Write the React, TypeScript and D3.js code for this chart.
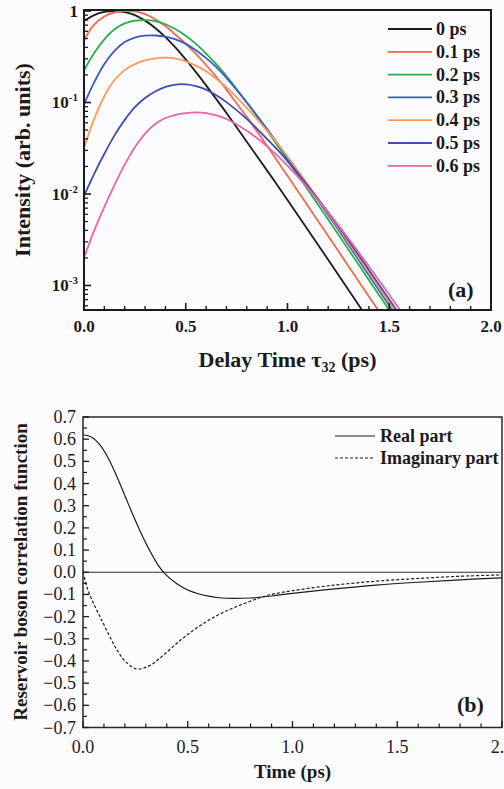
import React from "react";
import * as d3 from "d3";

// ---------- Panel (a) data ----------
const delayLabels = ["0 ps", "0.1 ps", "0.2 ps", "0.3 ps", "0.4 ps", "0.5 ps", "0.6 ps"];
const delayColors = ["#1c1c1c", "#f2694f", "#2aae4c", "#3b5bc2", "#f89b58", "#3d4db5", "#ee62a9"];

// delay time tau_32 (ps) at which the curves were read
const delayTimeGrid = [0, 0.05, 0.1, 0.15, 0.2, 0.25, 0.3, 0.35, 0.4, 0.45, 0.5, 0.55, 0.6, 0.65, 0.7, 0.8, 0.9, 1.0, 1.2, 1.4, 1.6];

const intensity0ps = [0.776, 0.902, 0.977, 1.0, 0.973, 0.902, 0.785, 0.653, 0.519, 0.398, 0.295, 0.215, 0.154, 0.109, 0.0767, 0.0372, 0.018, 0.00861, 0.00191, 0.000417, 0.0000912];
const intensity01ps = [0.479, 0.708, 0.871, 0.966, 1.0, 0.989, 0.923, 0.813, 0.684, 0.55, 0.437, 0.339, 0.257, 0.191, 0.138, 0.0692, 0.0335, 0.0158, 0.00347, 0.000759, 0.000166];
const intensity02ps = [0.224, 0.347, 0.49, 0.631, 0.733, 0.785, 0.796, 0.776, 0.716, 0.631, 0.537, 0.437, 0.343, 0.263, 0.195, 0.1, 0.049, 0.0234, 0.00525, 0.00115, 0.000251];
const intensity03ps = [0.0955, 0.166, 0.263, 0.367, 0.457, 0.513, 0.537, 0.54, 0.525, 0.49, 0.437, 0.372, 0.305, 0.243, 0.186, 0.1, 0.0513, 0.0248, 0.00589, 0.00129, 0.000282];
const intensity04ps = [0.0316, 0.0661, 0.117, 0.176, 0.226, 0.263, 0.288, 0.304, 0.309, 0.302, 0.282, 0.253, 0.219, 0.182, 0.146, 0.0871, 0.049, 0.0257, 0.00617, 0.00138, 0.000302];
const intensity05ps = [0.00955, 0.0166, 0.0275, 0.0437, 0.0646, 0.0891, 0.112, 0.132, 0.148, 0.157, 0.158, 0.151, 0.138, 0.12, 0.101, 0.0661, 0.0398, 0.0229, 0.00631, 0.00148, 0.000331];
const intensity06ps = [0.002, 0.00398, 0.00724, 0.0126, 0.0209, 0.0324, 0.0457, 0.0582, 0.0676, 0.0733, 0.0767, 0.078, 0.0767, 0.0724, 0.0661, 0.049, 0.0331, 0.0204, 0.00631, 0.00162, 0.00038];

const delayIntensities = [intensity0ps, intensity01ps, intensity02ps, intensity03ps, intensity04ps, intensity05ps, intensity06ps];

const xTicksA = [0, 0.5, 1.0, 1.5, 2.0];
const xTickLabelsA = ["0.0", "0.5", "1.0", "1.5", "2.0"];
const yTicksA = [1, 0.1, 0.01, 0.001];
const yTickExpA = ["", "-1", "-2", "-3"];

// ---------- Panel (b) data ----------
const realTime = [0, 0.04, 0.08, 0.12, 0.16, 0.2, 0.24, 0.28, 0.32, 0.36, 0.4, 0.45, 0.5, 0.55, 0.6, 0.65, 0.72, 0.8, 0.9, 1.0, 1.2, 1.4, 1.6, 1.8, 2.0];
const realPart = [0.62, 0.61, 0.575, 0.515, 0.435, 0.345, 0.255, 0.17, 0.095, 0.03, -0.015, -0.053, -0.08, -0.097, -0.108, -0.115, -0.118, -0.116, -0.107, -0.095, -0.075, -0.058, -0.045, -0.034, -0.025];

const imagTime = [0, 0.02, 0.05, 0.081, 0.12, 0.16, 0.2, 0.256, 0.32, 0.4, 0.48, 0.56, 0.64, 0.72, 0.845, 0.9, 1.0, 1.2, 1.4, 1.6, 1.8, 2.0];
const imagPart = [0, -0.07, -0.14, -0.2, -0.275, -0.347, -0.4, -0.436, -0.42, -0.36, -0.295, -0.24, -0.195, -0.16, -0.115, -0.1, -0.083, -0.058, -0.04, -0.028, -0.018, -0.012];

const xTicksB = [0, 0.5, 1.0, 1.5, 2.0];
const xTickLabelsB = ["0.0", "0.5", "1.0", "1.5", "2.0"];
const yTicksB = [0.7, 0.6, 0.5, 0.4, 0.3, 0.2, 0.1, 0.0, -0.1, -0.2, -0.3, -0.4, -0.5, -0.6, -0.7];
const legendB = ["Real part", "Imaginary part"];

const SERIF = "'Liberation Serif', 'Times New Roman', serif";
const INK = "#1d1a1a";

export default function App() {
  // panel a scales
  const xA = d3.scaleLinear().domain([0, 2]).range([84, 491]);
  const yA = d3.scaleLog().domain([Math.pow(10, -3.268), Math.pow(10, 0.0109)]).range([310, 10]);
  const lineA = d3
    .line<[number, number]>()
    .x((d) => xA(d[0]))
    .y((d) => yA(d[1]))
    .curve(d3.curveCatmullRom.alpha(0.5));

  const minorXA = d3.range(0, 20).map((i) => i / 10).filter((v) => Math.round(v * 10) % 5 !== 0);
  const minorYA: number[] = [];
  for (let e = -4; e <= 0; e++) {
    for (let k = 2; k <= 9; k++) {
      const v = k * Math.pow(10, e);
      const [lo, hi] = yA.domain();
      if (v > lo && v < hi) minorYA.push(v);
    }
  }

  // panel b scales
  const xB = d3.scaleLinear().domain([0, 2]).range([83, 502]);
  const yB = d3.scaleLinear().domain([-0.7, 0.7]).range([727.5, 417]);
  const lineB = d3
    .line<[number, number]>()
    .x((d) => xB(d[0]))
    .y((d) => yB(d[1]))
    .curve(d3.curveCatmullRom.alpha(0.5));
  const minorXB = d3.range(0, 21).map((i) => i / 10).filter((v) => Math.round(v * 10) % 5 !== 0);
  const minorYB = d3.range(-13, 14, 2).map((i) => i / 20);

  const realPts = realTime.map((t, i) => [t, realPart[i]] as [number, number]);
  const imagPts = imagTime.map((t, i) => [t, imagPart[i]] as [number, number]);

  return (
    <svg
      width={504}
      height={789}
      style={{ position: "absolute", left: 0, top: 0, background: "#fcfcfe" }}
      fontFamily={SERIF}
    >
      <defs>
        <clipPath id="clipA">
          <rect x={84} y={10} width={407} height={300} />
        </clipPath>
        <clipPath id="clipB">
          <rect x={83} y={417} width={419} height={310.5} />
        </clipPath>
      </defs>

      {/* ================= Panel (a) ================= */}
      <g clipPath="url(#clipA)">
        {delayIntensities.map((vals, k) => (
          <path
            key={k}
            d={lineA(delayTimeGrid.map((t, i) => [t, vals[i]] as [number, number])) || ""}
            fill="none"
            stroke={delayColors[k]}
            strokeWidth={1.8}
          />
        ))}
      </g>
      <rect x={84} y={10} width={407} height={300} fill="none" stroke={INK} strokeWidth={2} />

      {/* x ticks a */}
      {xTicksA.map((v, i) => (
        <g key={"xa" + i}>
          <line x1={xA(v)} x2={xA(v)} y1={310} y2={303} stroke={INK} strokeWidth={1.6} />
          <text x={xA(v)} y={332} textAnchor="middle" fontSize={17} fontWeight="bold" fill={INK}>
            {xTickLabelsA[i]}
          </text>
        </g>
      ))}
      {minorXA.map((v, i) => (
        <line key={"mxa" + i} x1={xA(v)} x2={xA(v)} y1={310} y2={306} stroke={INK} strokeWidth={1.4} />
      ))}
      {/* y ticks a */}
      {yTicksA.map((v, i) => (
        <g key={"ya" + i}>
          <line x1={84} x2={91} y1={yA(v)} y2={yA(v)} stroke={INK} strokeWidth={1.6} />
          <text x={78} y={yA(v) + 6} textAnchor="end" fontSize={17} fontWeight="bold" fill={INK}>
            {i === 0 ? "1" : "10"}
            {i > 0 && (
              <tspan dy={-7} fontSize={11}>
                {yTickExpA[i]}
              </tspan>
            )}
          </text>
        </g>
      ))}
      {minorYA.map((v, i) => (
        <line key={"mya" + i} x1={84} x2={88} y1={yA(v)} y2={yA(v)} stroke={INK} strokeWidth={1.3} />
      ))}

      {/* legend a */}
      {delayLabels.map((lab, i) => {
        const y = 29 + i * 22.8;
        return (
          <g key={"lga" + i}>
            <line x1={388} x2={432} y1={y} y2={y} stroke={delayColors[i]} strokeWidth={1.8} />
            <text x={436} y={y + 6} fontSize={18} fontWeight="bold" fill={INK}>
              {lab}
            </text>
          </g>
        );
      })}
      <text x={448} y={297} fontSize={22} fontWeight="bold" fill={INK}>
        (a)
      </text>

      {/* axis titles a */}
      <text
        transform="translate(30,160) rotate(-90)"
        textAnchor="middle"
        fontSize={22}
        fontWeight="bold"
        fill={INK}
      >
        Intensity (arb. units)
      </text>
      <text x={287.5} y={367} textAnchor="middle" fontSize={22} fontWeight="bold" fill={INK}>
        Delay Time τ
        <tspan dy={5} fontSize={14}>
          32
        </tspan>
        <tspan dy={-5}> (ps)</tspan>
      </text>

      {/* ================= Panel (b) ================= */}
      <line x1={83} x2={502} y1={yB(0)} y2={yB(0)} stroke="#3a2c28" strokeWidth={1.1} />
      <g clipPath="url(#clipB)">
        <path d={lineB(realPts) || ""} fill="none" stroke={INK} strokeWidth={1.2} />
        <path d={lineB(imagPts) || ""} fill="none" stroke={INK} strokeWidth={1.2} strokeDasharray="3,2" />
      </g>
      <rect x={83} y={417} width={419} height={310.5} fill="none" stroke="#2e2422" strokeWidth={1.5} />

      {xTicksB.map((v, i) => (
        <g key={"xb" + i}>
          <line x1={xB(v)} x2={xB(v)} y1={727.5} y2={721} stroke={INK} strokeWidth={1.3} />
          <text x={xB(v)} y={753} textAnchor="middle" fontSize={18} fill={INK}>
            {xTickLabelsB[i]}
          </text>
        </g>
      ))}
      {minorXB.map((v, i) => (
        <line key={"mxb" + i} x1={xB(v)} x2={xB(v)} y1={727.5} y2={723.5} stroke={INK} strokeWidth={1.2} />
      ))}
      {yTicksB.map((v, i) => (
        <g key={"yb" + i}>
          <line x1={83} x2={89} y1={yB(v)} y2={yB(v)} stroke={INK} strokeWidth={1.3} />
          <text x={76} y={yB(v) + 6} textAnchor="end" fontSize={18} fill={INK}>
            {v < 0 ? "\u2212" + Math.abs(v).toFixed(1) : v.toFixed(1)}
          </text>
        </g>
      ))}
      {minorYB.map((v, i) => (
        <line key={"myb" + i} x1={83} x2={87} y1={yB(v)} y2={yB(v)} stroke={INK} strokeWidth={1.2} />
      ))}

      {/* legend b */}
      <line x1={335} x2={375} y1={436} y2={436} stroke={INK} strokeWidth={1.2} />
      <text x={380} y={442} fontSize={18} fontWeight="bold" fill={INK}>
        {legendB[0]}
      </text>
      <line x1={335} x2={375} y1={458} y2={458} stroke={INK} strokeWidth={1.2} strokeDasharray="3,2" />
      <text x={380} y={464} fontSize={18} fontWeight="bold" fill={INK}>
        {legendB[1]}
      </text>
      <text x={457} y={712} fontSize={22} fontWeight="bold" fill={INK}>
        (b)
      </text>

      <text
        transform="translate(27,572) rotate(-90)"
        textAnchor="middle"
        fontSize={19}
        fontWeight="bold"
        fill={INK}
      >
        Reservoir boson correlation function
      </text>
      <text x={292.5} y={778} textAnchor="middle" fontSize={19} fontWeight="bold" fill={INK}>
        Time (ps)
      </text>
    </svg>
  );
}
